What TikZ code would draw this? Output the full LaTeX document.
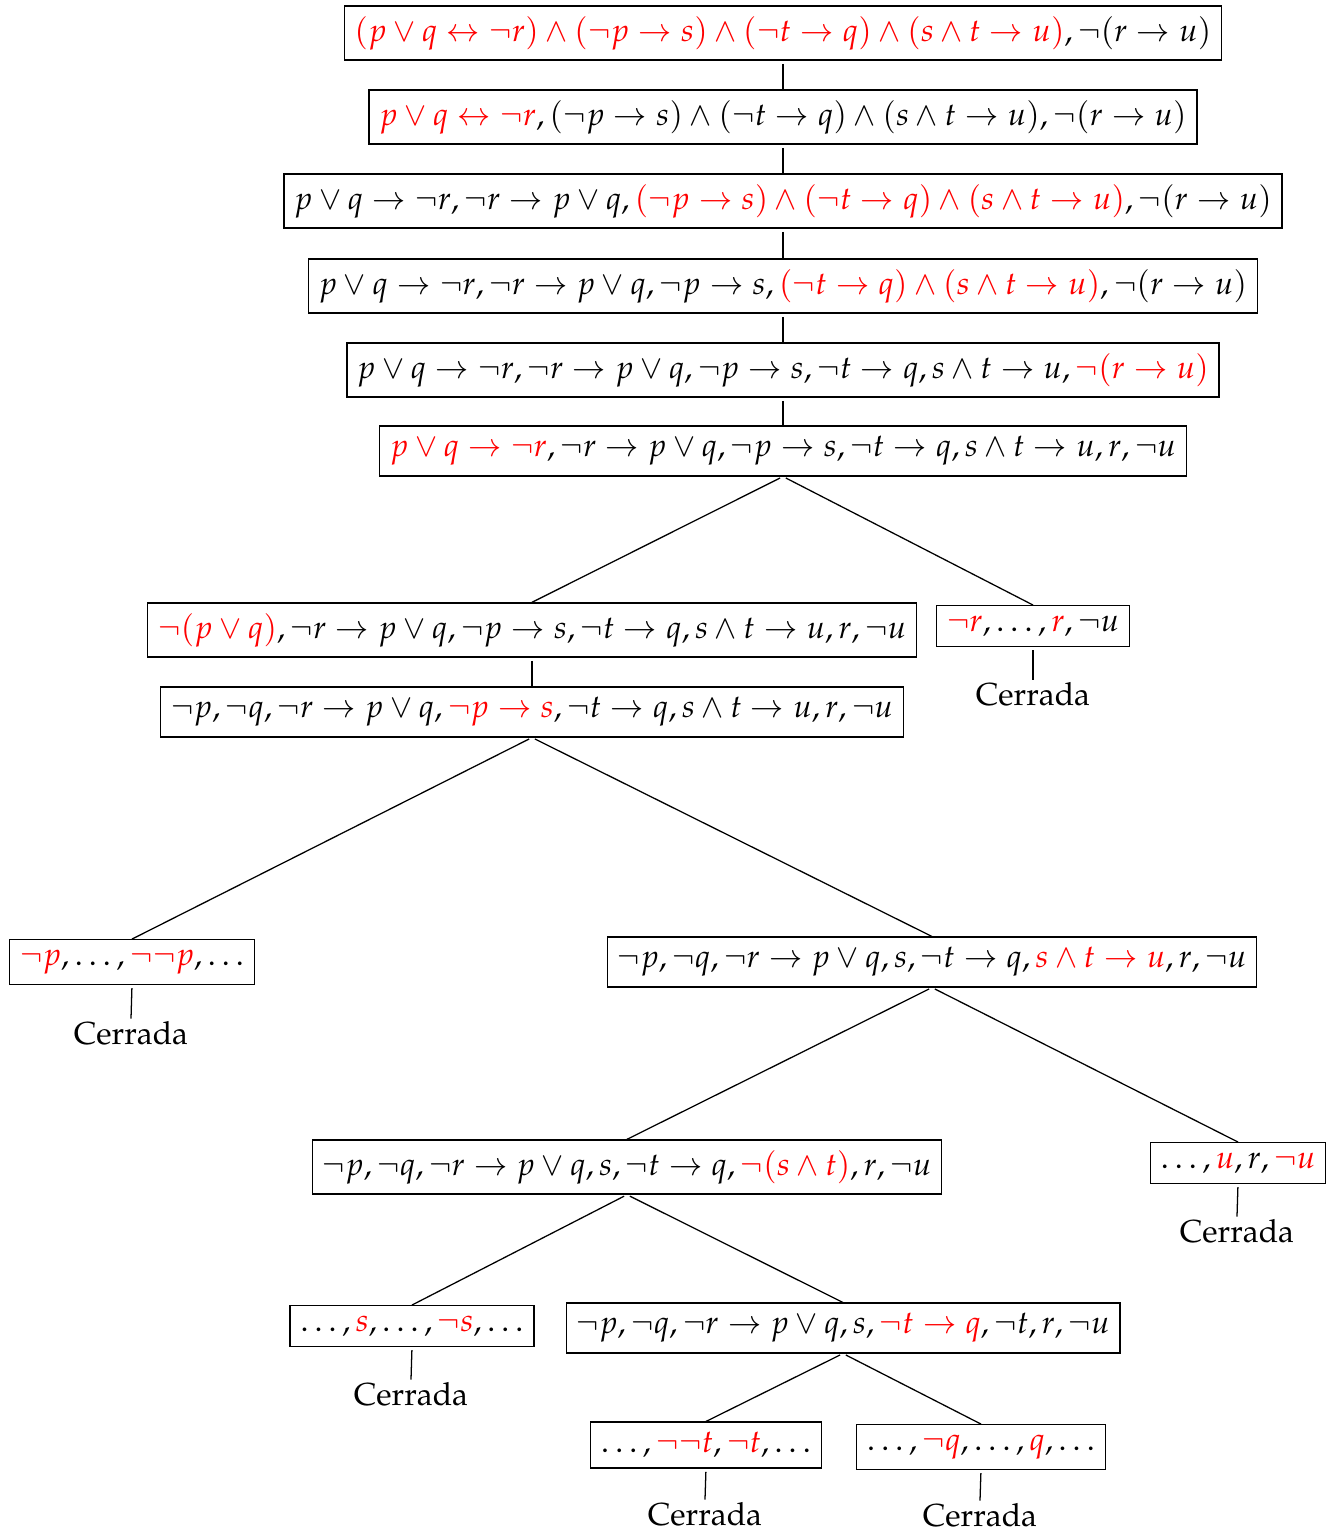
\documentclass[tikz,border=0pt]{standalone}
\usepackage{amsmath}
\usepackage[T1]{fontenc}
\usepackage{mathpazo}
\usepackage{tikz}
\newcommand{\hl}[1]{{\color{red}#1}}
\usetikzlibrary{
    arrows.meta,
    positioning
}
\tikzset{
    tabnode/.style={draw, inner sep=3.2pt},
    closednode/.style={inner sep=0.6pt},
    branch/.style={shorten <=1pt}
}

\begin{document}
\begin{tikzpicture}[x=0.314pt, y=-0.314pt]
    \useasboundingbox (0,0) rectangle (1339,1533);
    % tronco
    \node[tabnode] (n1) at (783,33) {$\hl{(p\lor q\leftrightarrow\neg r)\land(\neg p\to s)\land(\neg t\to q)\land(s\land t\to u)},\neg(r\to u)$};
    \node[tabnode] (n2) at (783,117) {$\hl{p\lor q\leftrightarrow\neg r},(\neg p\to s)\land(\neg t\to q)\land(s\land t\to u),\neg(r\to u)$};
    \node[tabnode] (n3) at (783,201) {$p\lor q\to\neg r,\neg r\to p\lor q,\hl{(\neg p\to s)\land(\neg t\to q)\land(s\land t\to u)},\neg(r\to u)$};
    \node[tabnode] (n4) at (783,286) {$p\lor q\to\neg r,\neg r\to p\lor q,\neg p\to s,\hl{(\neg t\to q)\land(s\land t\to u)},\neg(r\to u)$};
    \node[tabnode] (n5) at (783,370) {$p\lor q\to\neg r,\neg r\to p\lor q,\neg p\to s,\neg t\to q,s\land t\to u,\hl{\neg(r\to u)}$};
    \node[tabnode] (n6) at (783,451) {$\hl{p\lor q\to\neg r},\neg r\to p\lor q,\neg p\to s,\neg t\to q,s\land t\to u,r,\neg u$};
    \draw[branch] (n1.south) -- (n2.north);
    \draw[branch] (n2.south) -- (n3.north);
    \draw[branch] (n3.south) -- (n4.north);
    \draw[branch] (n4.south) -- (n5.north);
    \draw[branch] (n5.south) -- (n6.north);

    % primera ramificacion
    \node[tabnode] (n7) at (532,630) {$\hl{\neg(p\lor q)},\neg r\to p\lor q,\neg p\to s,\neg t\to q,s\land t\to u,r,\neg u$};
    \node[tabnode] (n8) at (1033,626) {$\hl{\neg r},\ldots,\hl{r},\neg u$};
    \node[closednode] (c8) at (1033,694) {Cerrada};
    \draw[branch] (n6.south) -- (n7.north);
    \draw[branch] (n6.south) -- (n8.north);
    \draw[branch] (n8.south) -- (c8.north);

    \node[tabnode] (n9) at (532,712) {$\neg p,\neg q,\neg r\to p\lor q,\hl{\neg p\to s},\neg t\to q,s\land t\to u,r,\neg u$};
    \draw[branch] (n7.south) -- (n9.north);

    % segunda ramificacion
    \node[tabnode] (n10) at (132,962) {$\hl{\neg p},\ldots,\hl{\neg\neg p},\ldots$};
    \node[closednode] (c10) at (131,1033) {Cerrada};
    \node[tabnode] (n11) at (932,962) {$\neg p,\neg q,\neg r\to p\lor q,s,\neg t\to q,\hl{s\land t\to u},r,\neg u$};
    \draw[branch] (n9.south) -- (n10.north);
    \draw[branch] (n9.south) -- (n11.north);
    \draw[branch] (n10.south) -- (c10.north);

    % tercera ramificacion
    \node[tabnode] (n12) at (627,1167) {$\neg p,\neg q,\neg r\to p\lor q,s,\neg t\to q,\hl{\neg(s\land t)},r,\neg u$};
    \node[tabnode] (n13) at (1238,1163) {$\ldots,\hl{u},r,\hl{\neg u}$};
    \node[closednode] (c13) at (1237,1231) {Cerrada};
    \draw[branch] (n11.south) -- (n12.north);
    \draw[branch] (n11.south) -- (n13.north);
    \draw[branch] (n13.south) -- (c13.north);

    % cuarta ramificacion
    \node[tabnode] (n14) at (412,1326) {$\ldots,\hl{s},\ldots,\hl{\neg s},\ldots$};
    \node[closednode] (c14) at (411,1394) {Cerrada};
    \node[tabnode] (n15) at (843,1328) {$\neg p,\neg q,\neg r\to p\lor q,s,\hl{\neg t\to q},\neg t,r,\neg u$};
    \draw[branch] (n12.south) -- (n14.north);
    \draw[branch] (n12.south) -- (n15.north);
    \draw[branch] (n14.south) -- (c14.north);

    % quinta ramificacion
    \node[tabnode] (n16) at (706,1445) {$\ldots,\hl{\neg\neg t},\hl{\neg t},\ldots$};
    \node[closednode] (c16) at (705,1514) {Cerrada};
    \node[tabnode] (n17) at (981,1447) {$\ldots,\hl{\neg q},\ldots,\hl{q},\ldots$};
    \node[closednode] (c17) at (980,1515) {Cerrada};
    \draw[branch] (n15.south) -- (n16.north);
    \draw[branch] (n15.south) -- (n17.north);
    \draw[branch] (n16.south) -- (c16.north);
    \draw[branch] (n17.south) -- (c17.north);
\end{tikzpicture}
\end{document}
